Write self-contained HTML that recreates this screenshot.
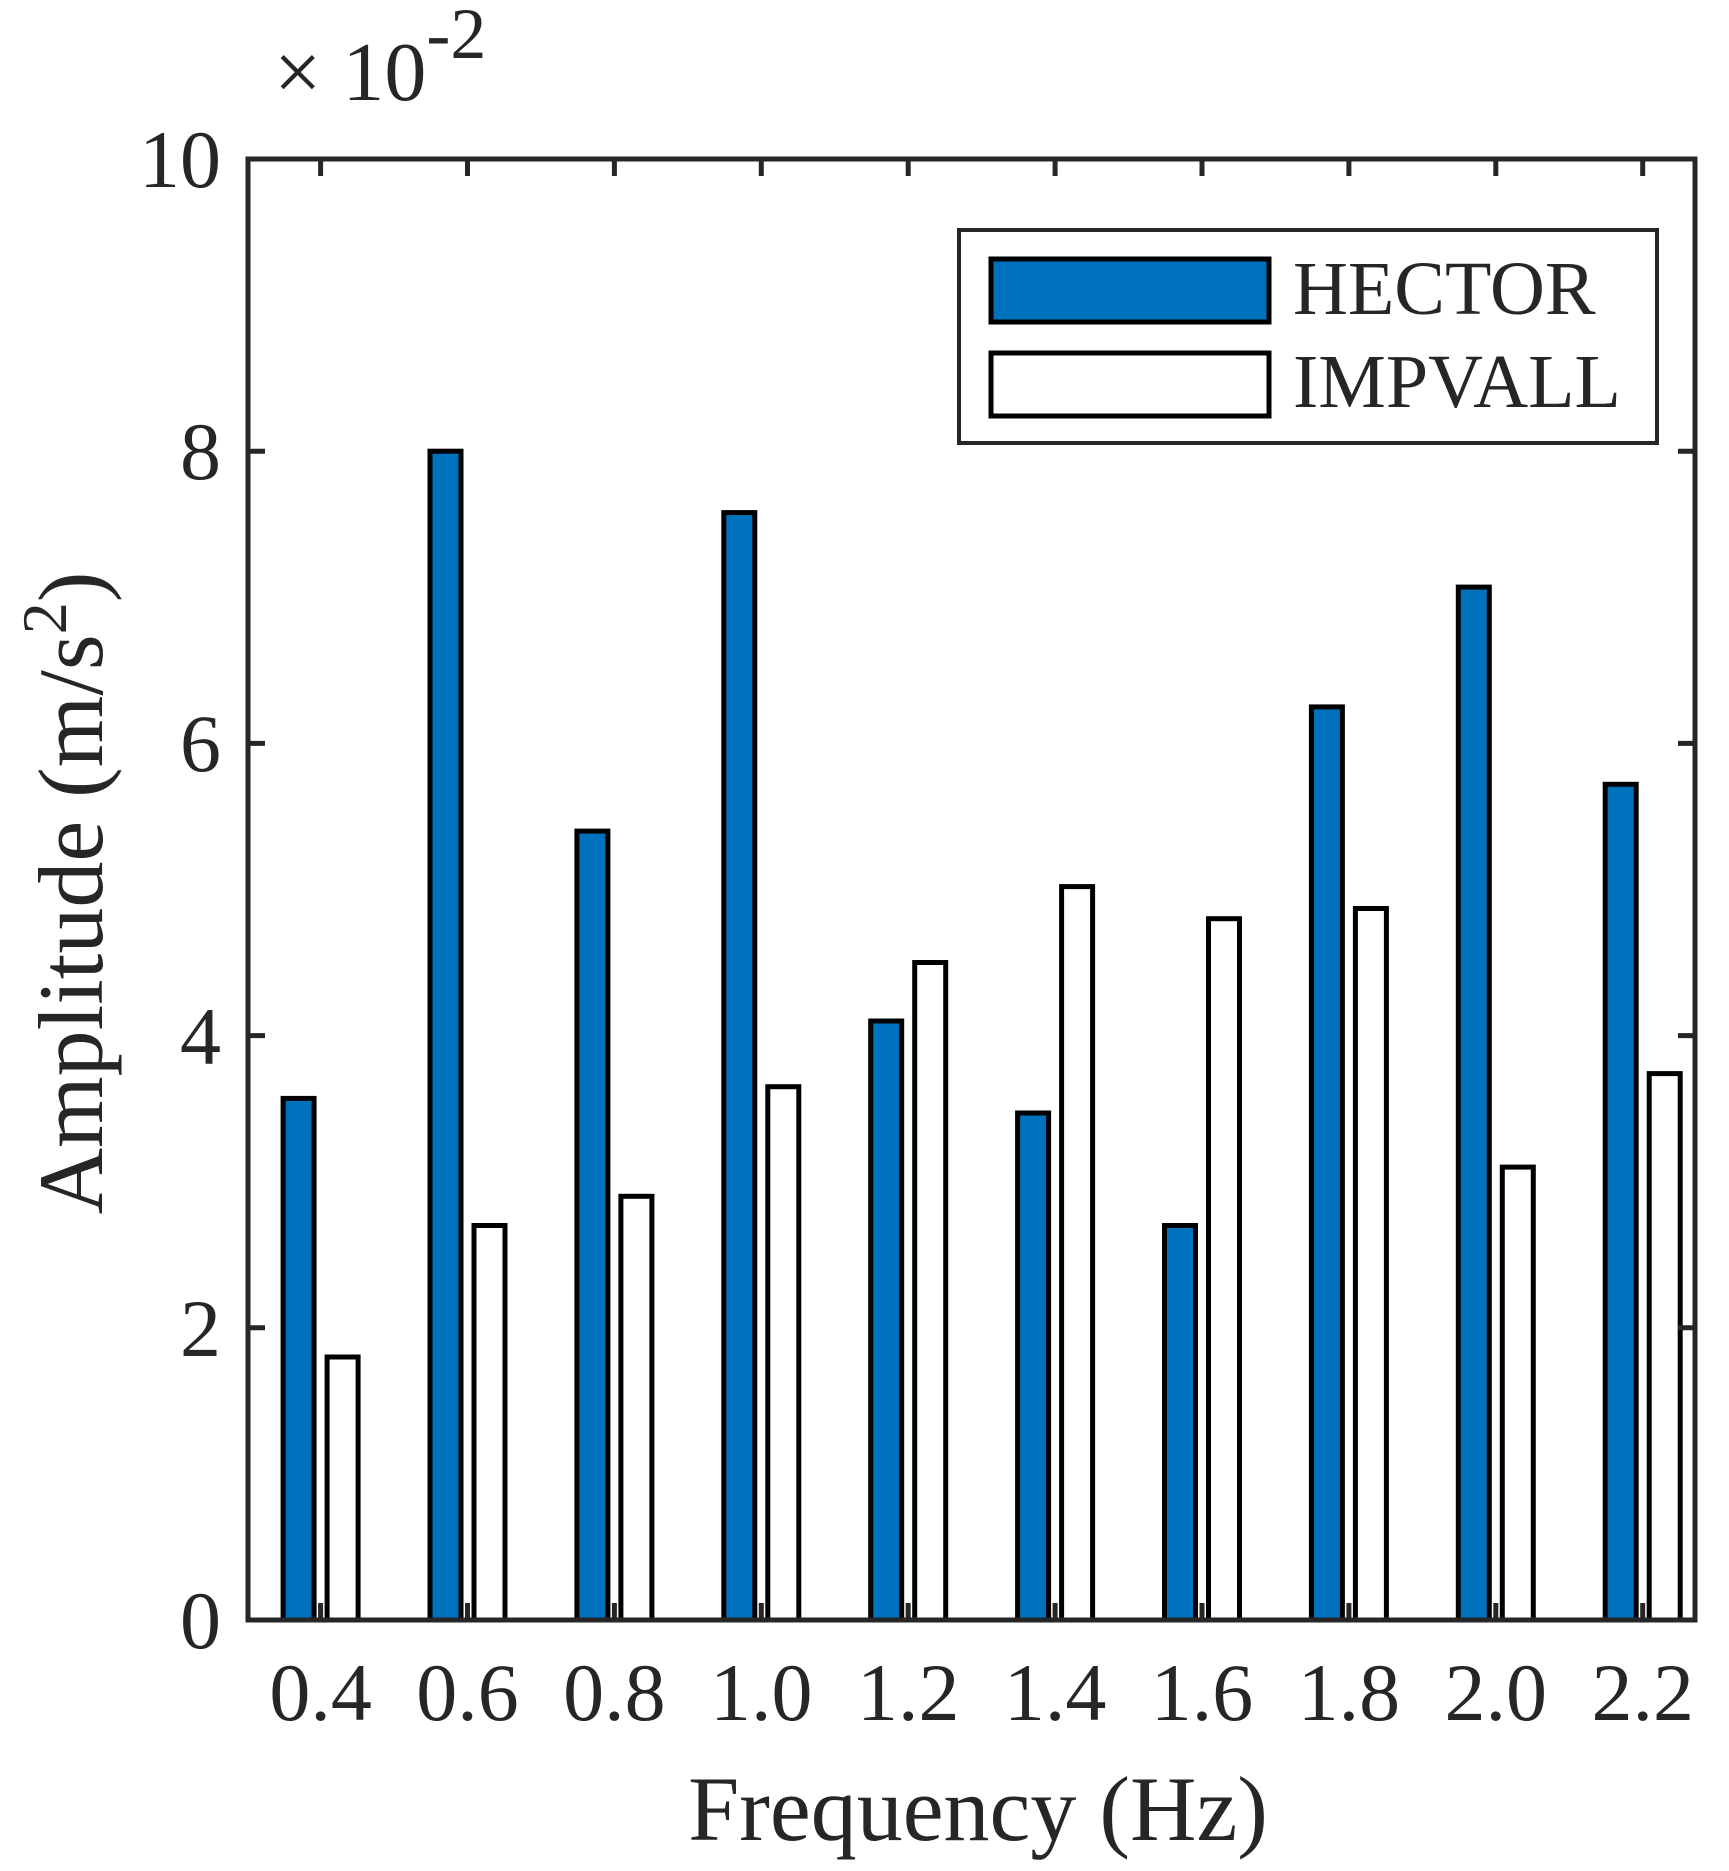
<!DOCTYPE html>
<html><head><style>body{margin:0;background:#fff}</style></head><body>
<svg width="1729" height="1866" xmlns="http://www.w3.org/2000/svg" font-family="Liberation Serif, serif" fill="#262626">
<rect width="1729" height="1866" fill="#fff"/>
<g stroke="#000" stroke-width="5">
<rect x="283.1" y="1098.4" width="31" height="521.6" fill="#0072BD"/>
<rect x="430" y="451.2" width="31" height="1168.8" fill="#0072BD"/>
<rect x="576.9" y="831.1" width="31" height="788.9" fill="#0072BD"/>
<rect x="723.8" y="512.6" width="31" height="1107.4" fill="#0072BD"/>
<rect x="870.7" y="1021" width="31" height="599" fill="#0072BD"/>
<rect x="1017.6" y="1113" width="31" height="507" fill="#0072BD"/>
<rect x="1164.5" y="1225.5" width="31" height="394.5" fill="#0072BD"/>
<rect x="1311.4" y="706.9" width="31" height="913.1" fill="#0072BD"/>
<rect x="1458.3" y="587.1" width="31" height="1032.9" fill="#0072BD"/>
<rect x="1605.2" y="784.3" width="31" height="835.7" fill="#0072BD"/>
<rect x="327.1" y="1357" width="31" height="263" fill="#fff"/>
<rect x="474" y="1225.5" width="31" height="394.5" fill="#fff"/>
<rect x="620.9" y="1196.3" width="31" height="423.7" fill="#fff"/>
<rect x="767.8" y="1086.7" width="31" height="533.3" fill="#fff"/>
<rect x="914.7" y="962.5" width="31" height="657.5" fill="#fff"/>
<rect x="1061.6" y="886.6" width="31" height="733.4" fill="#fff"/>
<rect x="1208.5" y="918.7" width="31" height="701.3" fill="#fff"/>
<rect x="1355.4" y="908.5" width="31" height="711.5" fill="#fff"/>
<rect x="1502.3" y="1167.1" width="31" height="452.9" fill="#fff"/>
<rect x="1649.2" y="1073.6" width="31" height="546.4" fill="#fff"/>
</g>
<rect x="248" y="159" width="1447" height="1461" fill="none" stroke="#262626" stroke-width="5"/>
<g stroke="#262626" stroke-width="5">
<line x1="320.6" y1="1620" x2="320.6" y2="1603"/><line x1="320.6" y1="159" x2="320.6" y2="176"/>
<line x1="467.5" y1="1620" x2="467.5" y2="1603"/><line x1="467.5" y1="159" x2="467.5" y2="176"/>
<line x1="614.4" y1="1620" x2="614.4" y2="1603"/><line x1="614.4" y1="159" x2="614.4" y2="176"/>
<line x1="761.3" y1="1620" x2="761.3" y2="1603"/><line x1="761.3" y1="159" x2="761.3" y2="176"/>
<line x1="908.2" y1="1620" x2="908.2" y2="1603"/><line x1="908.2" y1="159" x2="908.2" y2="176"/>
<line x1="1055.1" y1="1620" x2="1055.1" y2="1603"/><line x1="1055.1" y1="159" x2="1055.1" y2="176"/>
<line x1="1202" y1="1620" x2="1202" y2="1603"/><line x1="1202" y1="159" x2="1202" y2="176"/>
<line x1="1348.9" y1="1620" x2="1348.9" y2="1603"/><line x1="1348.9" y1="159" x2="1348.9" y2="176"/>
<line x1="1495.8" y1="1620" x2="1495.8" y2="1603"/><line x1="1495.8" y1="159" x2="1495.8" y2="176"/>
<line x1="1642.7" y1="1620" x2="1642.7" y2="1603"/><line x1="1642.7" y1="159" x2="1642.7" y2="176"/>
<line x1="248" y1="1327.8" x2="265" y2="1327.8"/><line x1="1695" y1="1327.8" x2="1678" y2="1327.8"/>
<line x1="248" y1="1035.6" x2="265" y2="1035.6"/><line x1="1695" y1="1035.6" x2="1678" y2="1035.6"/>
<line x1="248" y1="743.4" x2="265" y2="743.4"/><line x1="1695" y1="743.4" x2="1678" y2="743.4"/>
<line x1="248" y1="451.2" x2="265" y2="451.2"/><line x1="1695" y1="451.2" x2="1678" y2="451.2"/>
</g>
<g font-size="82" text-anchor="end">
<text x="221" y="1648">0</text><text x="221" y="1356">2</text><text x="221" y="1064">4</text>
<text x="221" y="771">6</text><text x="221" y="479">8</text><text x="221" y="187">10</text>
</g>
<g font-size="82" text-anchor="middle">
<text x="320.6" y="1720">0.4</text><text x="467.5" y="1720">0.6</text><text x="614.4" y="1720">0.8</text>
<text x="761.3" y="1720">1.0</text><text x="908.2" y="1720">1.2</text><text x="1055.1" y="1720">1.4</text>
<text x="1202" y="1720">1.6</text><text x="1348.9" y="1720">1.8</text><text x="1495.8" y="1720">2.0</text>
<text x="1642.7" y="1720">2.2</text>
</g>
<text x="274" y="100" font-size="84">× 10<tspan font-size="72" dy="-42">-2</tspan></text>
<text x="978" y="1840" text-anchor="middle" font-size="92">Frequency (Hz)</text>
<text transform="translate(102,893) rotate(-90)" text-anchor="middle" font-size="92">Amplitude (m/s<tspan font-size="64" dy="-36">2</tspan><tspan dy="36">)</tspan></text>
<rect x="959" y="230" width="698" height="213" fill="#fff" stroke="#262626" stroke-width="4"/>
<rect x="991" y="259" width="278" height="63" fill="#0072BD" stroke="#000" stroke-width="5"/>
<rect x="991" y="353" width="278" height="63" fill="#fff" stroke="#000" stroke-width="5"/>
<text x="1293" y="314" font-size="76">HECTOR</text>
<text x="1293" y="407" font-size="76">IMPVALL</text>
</svg>
</body></html>
